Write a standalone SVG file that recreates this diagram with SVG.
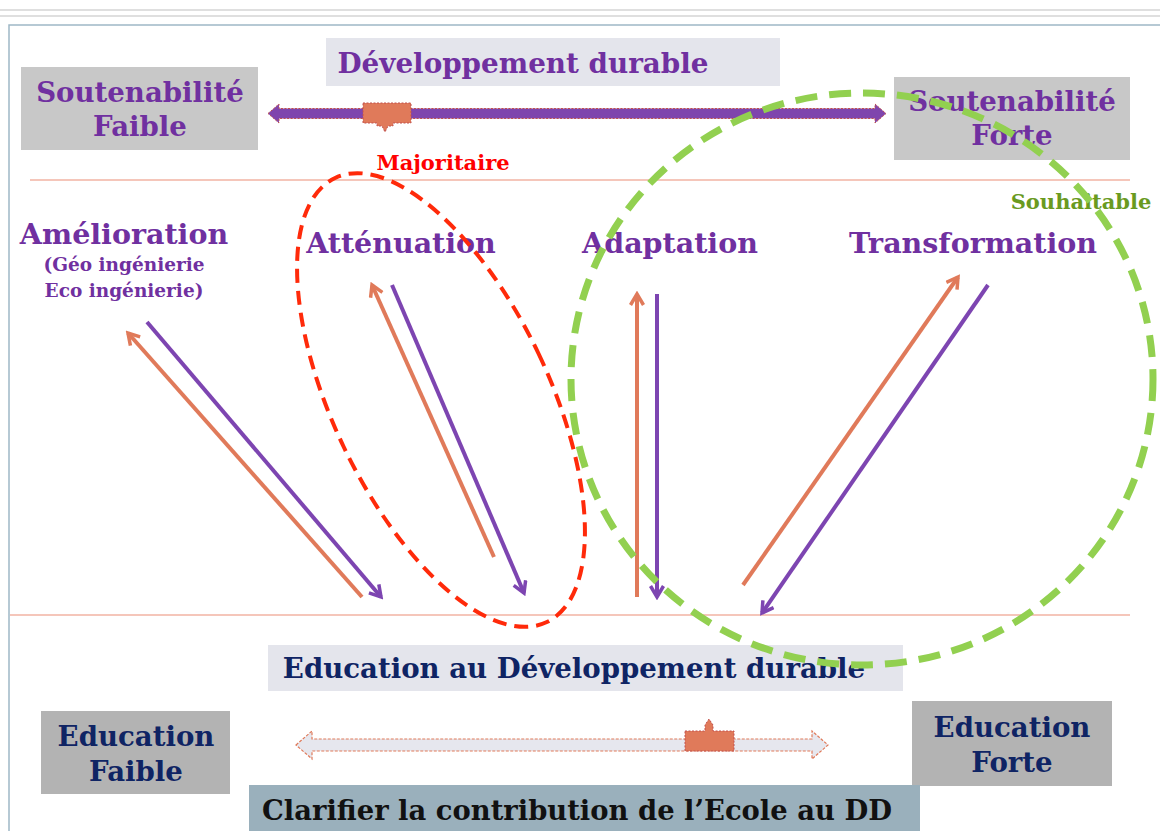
<svg xmlns="http://www.w3.org/2000/svg" width="1160" height="831" viewBox="0 0 1160 831">
<defs>
<style>
.t{font-family:"DejaVu Serif","Liberation Serif",serif;font-weight:bold;text-anchor:middle}
.pu{fill:#7030a0}
.nv{fill:#0f2464}
.box1{fill:#e4e5ec}
.box2{fill:#c8c8c8}
.box3{fill:#b3b3b3}
.oa{stroke:#e07a5a;stroke-width:4;fill:none}
.pa{stroke:#7d45b1;stroke-width:4;fill:none}
</style>
<marker id="mo" viewBox="0 0 16 16" refX="13" refY="8" markerWidth="16" markerHeight="16" markerUnits="userSpaceOnUse" orient="auto">
<path d="M2,1.5 L13,8 L2,14.5" fill="none" stroke="#e07a5a" stroke-width="3.5"/>
</marker>
<marker id="mp" viewBox="0 0 16 16" refX="13" refY="8" markerWidth="16" markerHeight="16" markerUnits="userSpaceOnUse" orient="auto">
<path d="M2,1.5 L13,8 L2,14.5" fill="none" stroke="#7d45b1" stroke-width="3.5"/>
</marker>
</defs>
<rect width="1160" height="831" fill="#ffffff"/>
<line x1="0" y1="10" x2="1160" y2="10" stroke="#d4d4d4" stroke-width="1.5"/>
<line x1="0" y1="16" x2="1160" y2="16" stroke="#d4d4d4" stroke-width="1.5"/>
<path d="M9,831 V25 H1160" fill="none" stroke="#9fb8c6" stroke-width="1.5"/>

<g id="dev-durable">
<rect class="box1" x="326" y="38" width="454" height="48"/>
<text class="t pu" x="523" y="73" font-size="27.8">Développement durable</text>
</g>
<g id="sout-faible">
<rect class="box2" x="21" y="67" width="237" height="83"/>
<text class="t pu" x="140" y="102" font-size="27.6">Soutenabilité</text>
<text class="t pu" x="140" y="136" font-size="27.6">Faible</text>
</g>
<g id="sout-forte">
<rect class="box2" x="894" y="77" width="236" height="83"/>
<text class="t pu" x="1012" y="111" font-size="27.6">Soutenabilité</text>
<text class="t pu" x="1012" y="145" font-size="27.6">Forte</text>
</g>

<g id="separators">
<line x1="30" y1="180" x2="1130" y2="180" stroke="#f2b3a3" stroke-width="1.5"/>
<line x1="10" y1="615" x2="1130" y2="615" stroke="#f2b3a3" stroke-width="1.5"/>
</g>

<g id="scale-top">
<polygon points="268,113.5 279,104 279,108.5 875,108.5 875,104 886,113.5 875,123 875,118.5 279,118.5 279,123" fill="#7f45ad" stroke="#c0504d" stroke-width="1" stroke-dasharray="2 1.5"/>
<polygon points="363,103 411,103 411,123 393,123 393,126 388,126 385,132 382,126 377,126 377,123 363,123" fill="#e07a5a" stroke="#c0504d" stroke-width="1" stroke-dasharray="2 1.5"/>
</g>

<g id="majoritaire">
<text class="t" x="443" y="170" font-size="21" fill="#ff0000">Majoritaire</text>
</g>
<g id="souhaitable">
<text class="t" x="1081" y="209" font-size="21" fill="#6a9a1f">Souhaitable</text>
</g>

<g id="amelioration">
<text class="t pu" x="124" y="244" font-size="28.5">Amélioration</text>
<text class="t pu" x="124" y="271" font-size="18.5">(Géo ingénierie</text>
<text class="t pu" x="124" y="297" font-size="18.5">Eco ingénierie)</text>
</g>
<g id="attenuation">
<text class="t pu" x="401" y="253" font-size="28.5">Atténuation</text>
</g>
<g id="adaptation">
<text class="t pu" x="670" y="253" font-size="28.5">Adaptation</text>
</g>
<g id="transformation">
<text class="t pu" x="973" y="253" font-size="28.5">Transformation</text>
</g>

<g id="connectors">
<line class="oa" x1="362" y1="597" x2="128" y2="333" marker-end="url(#mo)"/>
<line class="pa" x1="147" y1="322" x2="381" y2="597" marker-end="url(#mp)"/>
<line class="oa" x1="494" y1="557" x2="372" y2="285" marker-end="url(#mo)"/>
<line class="pa" x1="392" y1="285" x2="524" y2="593" marker-end="url(#mp)"/>
<line class="oa" x1="637" y1="597" x2="637" y2="294" marker-end="url(#mo)"/>
<line class="pa" x1="657" y1="294" x2="657" y2="597" marker-end="url(#mp)"/>
<line class="oa" x1="743" y1="585" x2="958" y2="277" marker-end="url(#mo)"/>
<line class="pa" x1="988" y1="285" x2="762" y2="613" marker-end="url(#mp)"/>
</g>

<g id="red-ellipse">
<ellipse cx="441" cy="400" rx="108" ry="246" transform="rotate(-25.5 441 400)" fill="none" stroke="#ff2a0a" stroke-width="4" stroke-dasharray="14 8"/>
</g>

<g id="edd">
<rect class="box1" x="268" y="645" width="635" height="46"/>
<text class="t nv" x="574" y="678" font-size="27.6">Education au Développement durable</text>
</g>

<g id="green-circle">
<ellipse cx="862" cy="379" rx="291" ry="286" fill="none" stroke="#92d050" stroke-width="7" stroke-dasharray="22 12"/>
</g>

<g id="edu-faible">
<rect class="box3" x="41" y="711" width="189" height="83"/>
<text class="t nv" x="136" y="746" font-size="27.6">Education</text>
<text class="t nv" x="136" y="781" font-size="27.6">Faible</text>
</g>
<g id="edu-forte">
<rect class="box3" x="912" y="701" width="200" height="85"/>
<text class="t nv" x="1012" y="737" font-size="27.6">Education</text>
<text class="t nv" x="1012" y="772" font-size="27.6">Forte</text>
</g>

<g id="scale-bottom">
<polygon points="296,745 312,731 312,739 812,739 812,731 828,745 812,759 812,751 312,751 312,759" fill="#e6e7ee" stroke="#e07a5a" stroke-width="1.2" stroke-dasharray="3 1.5"/>
<polygon points="685,731 705,731 705,725 709,719 713,725 713,731 734,731 734,751 685,751" fill="#e07a5a" stroke="#c0504d" stroke-width="1" stroke-dasharray="2 1.5"/>
</g>

<g id="clarifier">
<rect x="249" y="785" width="671" height="46" fill="#9ab0bc"/>
<text class="t" x="262" y="820" font-size="27.4" fill="#111111" style="text-anchor:start">Clarifier la contribution de l’Ecole au DD</text>
</g>
</svg>
